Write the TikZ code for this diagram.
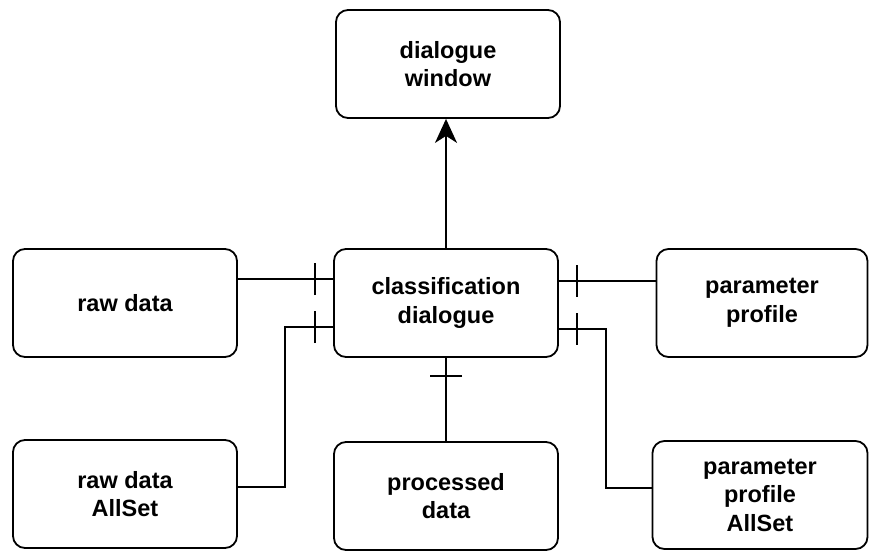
\documentclass[tikz,border=0pt]{standalone}
\usepackage{fontspec}
\setmainfont{Liberation Sans}
\usepackage{tikz}
\usetikzlibrary{arrows.meta,shapes,decorations.markings}

\begin{document}
\begin{tikzpicture}[x=1pt,y=-1pt,
    every node/.style={draw,rounded corners=12pt,line width=1.8pt,align=center,
      minimum width=224pt,minimum height=108pt,inner sep=0pt,
      font=\fontsize{23.5}{28.5}\selectfont\bfseries},
    onemark/.style={postaction={decorate,decoration={markings,
      mark=at position -18pt with {\draw[line width=1.8pt] (0,-16pt) -- (0,16pt);}}}}]
    \useasboundingbox (0,0) rectangle (870,552);

    \node(class) at (446,303) {classification\\dialogue};
    \node(win)[above of=class,node distance=239pt,xshift=2pt] {dialogue\\window};
    \node(raw)[left of=class,node distance=321pt] {raw data};
    \node(param)[right of=class,node distance=316pt,minimum width=211pt] {parameter\\profile};

    \node(proc)[below of=class,node distance=193pt] {processed\\data};
    \node(rawall)[below of=raw,node distance=191pt] {raw data\\AllSet};
    \node(paramall)[below of=param,node distance=192pt,xshift=-2pt,minimum width=215pt] {parameter\\profile\\AllSet};

    \coordinate(rawbend) at (285,327);
    \coordinate(parbend) at (606,329);

    \path[draw=black,line width=1.8pt,onemark]([yshift=24pt]raw.east) -- ([yshift=24pt]class.west);
    \path[draw=black,line width=1.8pt,onemark]([yshift=7pt]rawall.east) -| (rawbend) -- (class.west |- rawbend);
    \path[draw=black,line width=1.8pt,onemark]([yshift=22pt]param.west) -- ([yshift=22pt]class.east);
    \path[draw=black,line width=1.8pt,onemark]([yshift=7pt]paramall.west) -| (parbend) -- (class.east |- parbend);
    \path[draw=black,line width=1.8pt,onemark](proc.north) -- (class.south);

    \path[draw=black,line width=1.8pt,-{Stealth[length=24pt,width=22pt,inset=7pt]}](class.north) -- (class.north |- win.south);

  \end{tikzpicture}
\end{document}
